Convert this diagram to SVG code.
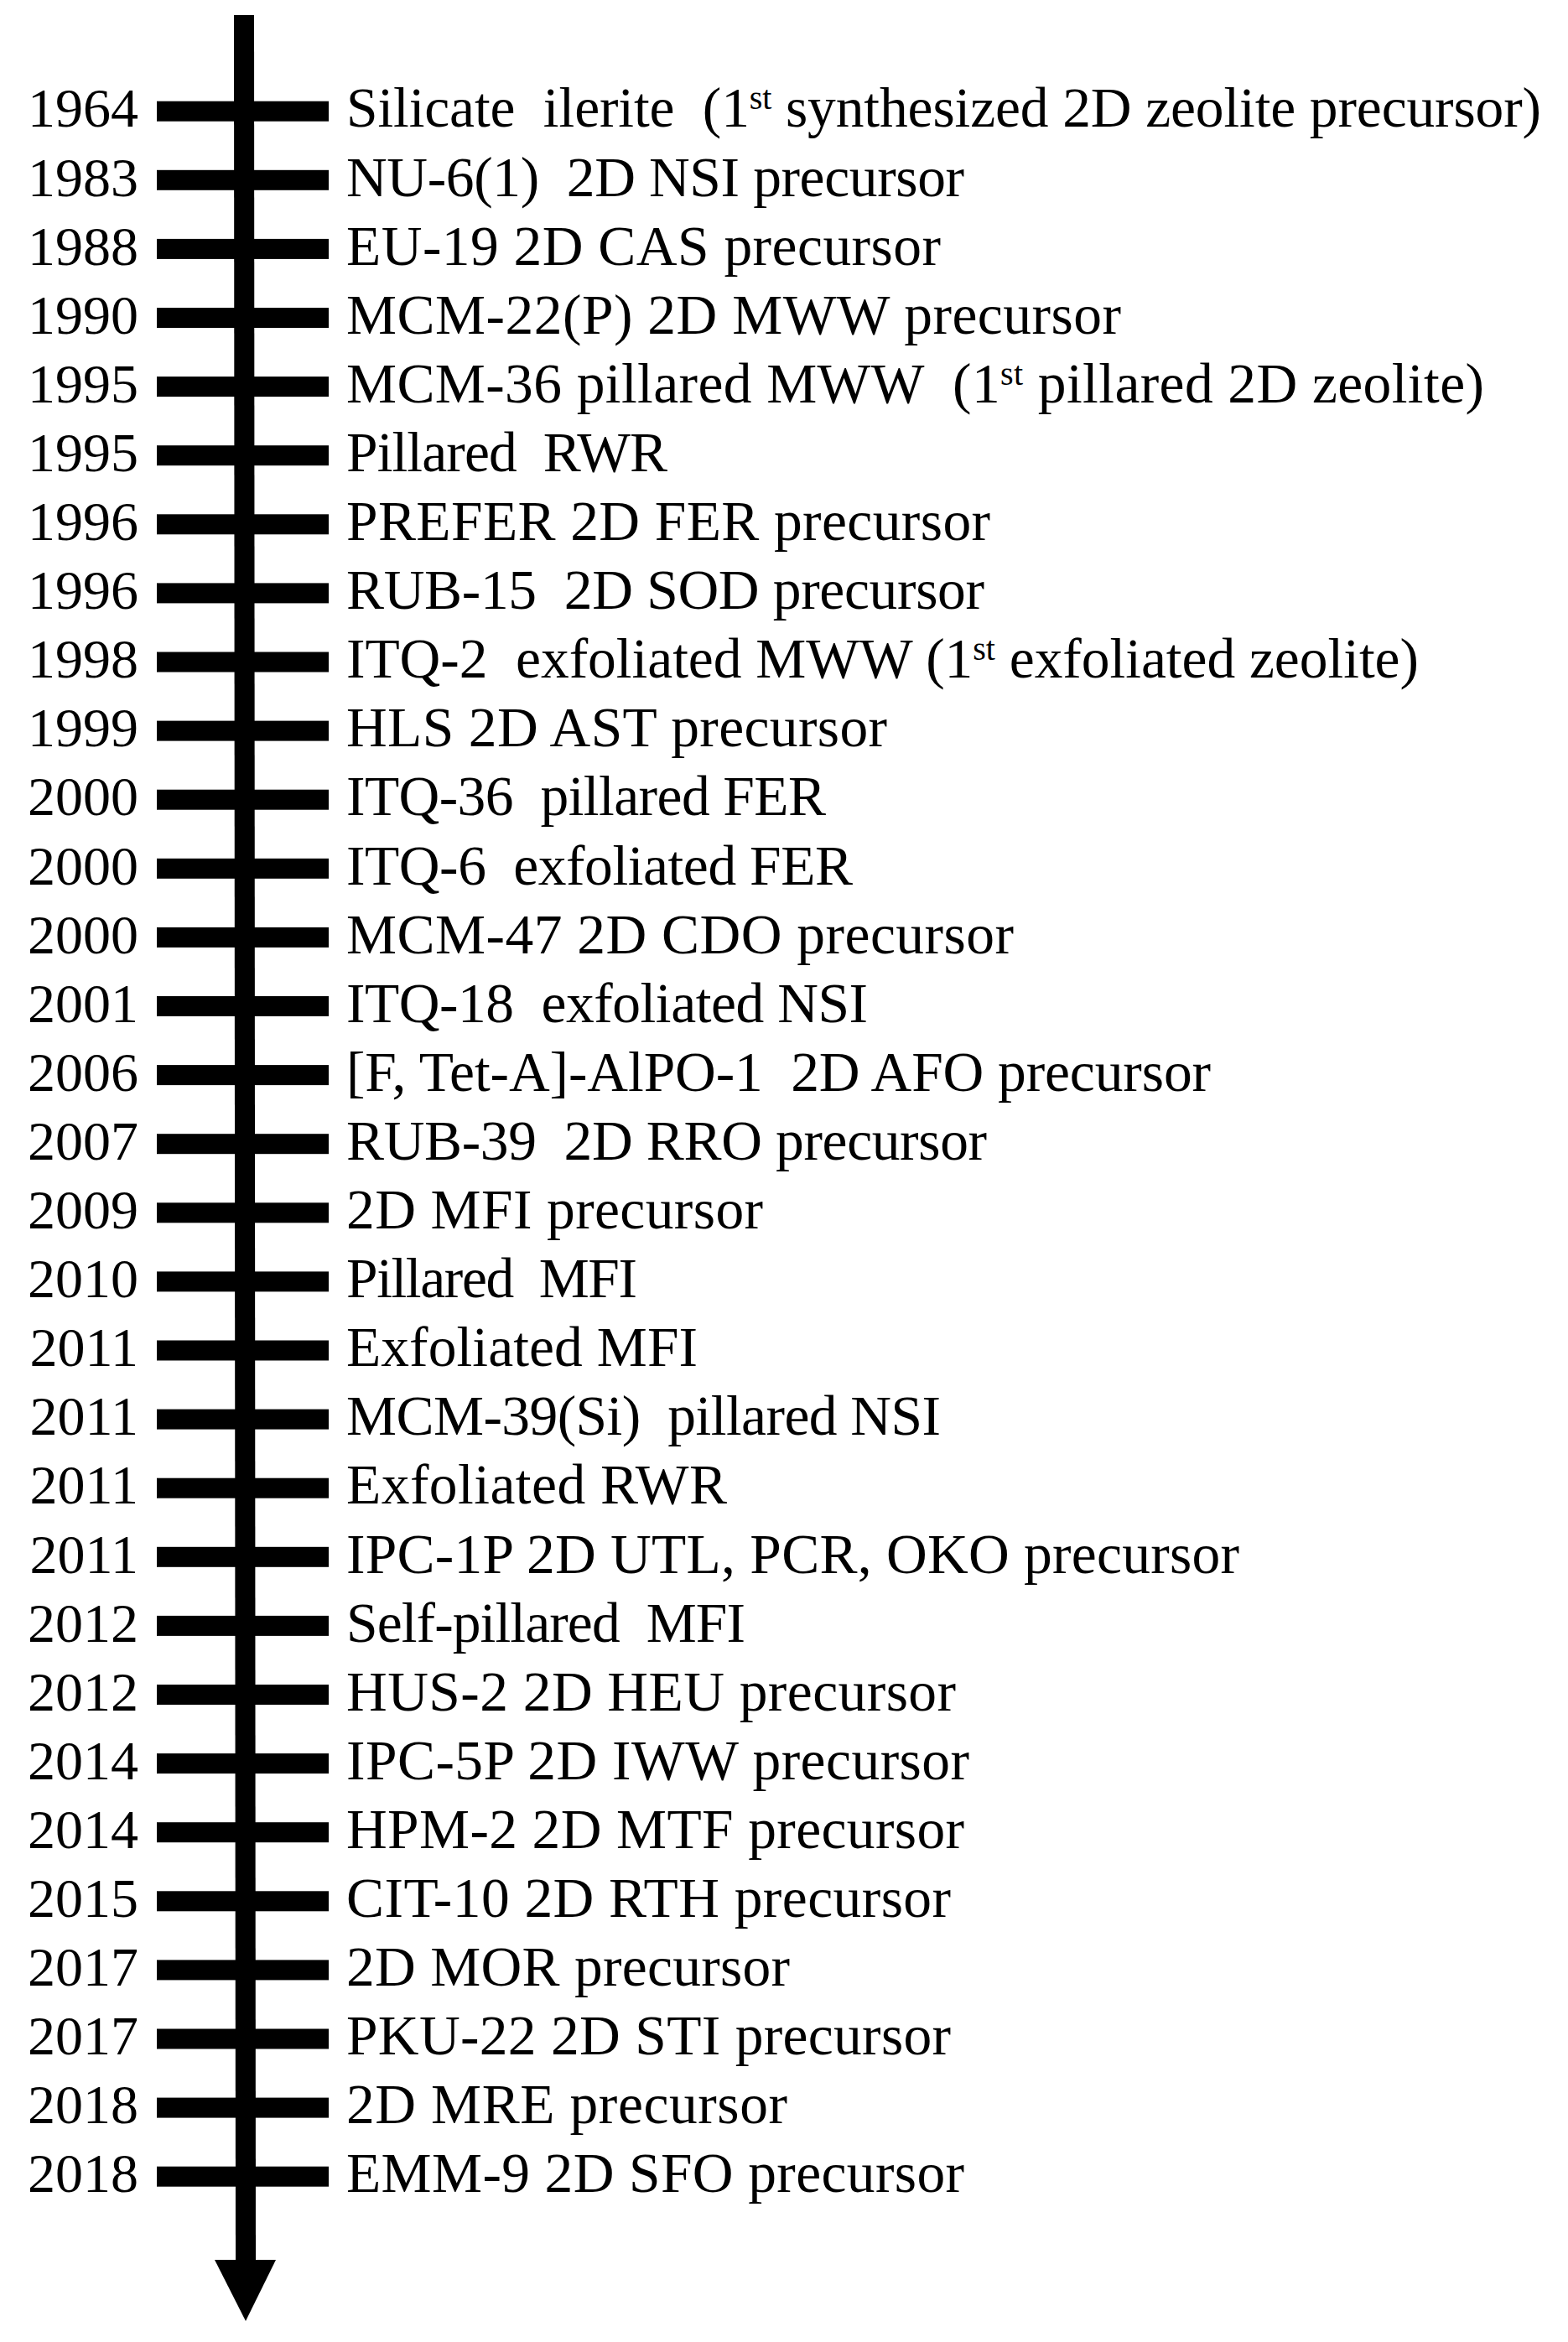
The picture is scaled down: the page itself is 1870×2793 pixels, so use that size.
<svg xmlns="http://www.w3.org/2000/svg" width="1870" height="2793" viewBox="0 0 1870 2793">
<style>
text{font-family:"Liberation Serif","Times New Roman",serif;font-size:66px;fill:#000;white-space:pre}
.lb{font-size:67.5px}
.yr{text-anchor:end}
.tick{fill:#000}
.sup{font-size:40px}
</style>
<rect width="1870" height="2793" fill="#fff"/>
<g id="connectors">
<polygon points="279,18 303,18 305,2696 281,2696" fill="#000"/>
<polygon points="256,2695 329,2695 293,2768" fill="#000"/>
</g>
<g id="n1"><rect class="tick" x="187" y="120.7" width="205" height="24"/><text class="yr" x="165" y="151.4">1964</text><text class="lb" x="413" y="151.4" textLength="1425" lengthAdjust="spacing">Silicate  ilerite  (1<tspan class="sup" dy="-21">st</tspan><tspan dy="21"> synthesized 2D zeolite precursor)</tspan></text></g>
<g id="n2"><rect class="tick" x="187" y="202.8" width="205" height="24"/><text class="yr" x="165" y="233.5">1983</text><text class="lb" x="413" y="233.5" textLength="737" lengthAdjust="spacing">NU-6(1)  2D NSI precursor</text></g>
<g id="n3"><rect class="tick" x="187" y="284.9" width="205" height="24"/><text class="yr" x="165" y="315.6">1988</text><text class="lb" x="413" y="315.6" textLength="709" lengthAdjust="spacing">EU-19 2D CAS precursor</text></g>
<g id="n4"><rect class="tick" x="187" y="367.0" width="205" height="24"/><text class="yr" x="165" y="397.7">1990</text><text class="lb" x="413" y="397.7" textLength="924" lengthAdjust="spacing">MCM-22(P) 2D MWW precursor</text></g>
<g id="n5"><rect class="tick" x="187" y="449.1" width="205" height="24"/><text class="yr" x="165" y="479.8">1995</text><text class="lb" x="413" y="479.8" textLength="1357" lengthAdjust="spacing">MCM-36 pillared MWW  (1<tspan class="sup" dy="-21">st</tspan><tspan dy="21"> pillared 2D zeolite)</tspan></text></g>
<g id="n6"><rect class="tick" x="187" y="531.2" width="205" height="24"/><text class="yr" x="165" y="561.9">1995</text><text class="lb" x="413" y="561.9" textLength="383" lengthAdjust="spacing">Pillared  RWR</text></g>
<g id="n7"><rect class="tick" x="187" y="613.3" width="205" height="24"/><text class="yr" x="165" y="644.0">1996</text><text class="lb" x="413" y="644.0" textLength="768" lengthAdjust="spacing">PREFER 2D FER precursor</text></g>
<g id="n8"><rect class="tick" x="187" y="695.4" width="205" height="24"/><text class="yr" x="165" y="726.1">1996</text><text class="lb" x="413" y="726.1" textLength="761" lengthAdjust="spacing">RUB-15  2D SOD precursor</text></g>
<g id="n9"><rect class="tick" x="187" y="777.5" width="205" height="24"/><text class="yr" x="165" y="808.2">1998</text><text class="lb" x="413" y="808.2" textLength="1279" lengthAdjust="spacing">ITQ-2  exfoliated MWW (1<tspan class="sup" dy="-21">st</tspan><tspan dy="21"> exfoliated zeolite)</tspan></text></g>
<g id="n10"><rect class="tick" x="187" y="859.6" width="205" height="24"/><text class="yr" x="165" y="890.3">1999</text><text class="lb" x="413" y="890.3" textLength="645" lengthAdjust="spacing">HLS 2D AST precursor</text></g>
<g id="n11"><rect class="tick" x="187" y="941.7" width="205" height="24"/><text class="yr" x="165" y="972.4">2000</text><text class="lb" x="413" y="972.4" textLength="572" lengthAdjust="spacing">ITQ-36  pillared FER</text></g>
<g id="n12"><rect class="tick" x="187" y="1023.8" width="205" height="24"/><text class="yr" x="165" y="1054.5">2000</text><text class="lb" x="413" y="1054.5" textLength="604" lengthAdjust="spacing">ITQ-6  exfoliated FER</text></g>
<g id="n13"><rect class="tick" x="187" y="1105.9" width="205" height="24"/><text class="yr" x="165" y="1136.6">2000</text><text class="lb" x="413" y="1136.6" textLength="796" lengthAdjust="spacing">MCM-47 2D CDO precursor</text></g>
<g id="n14"><rect class="tick" x="187" y="1188.0" width="205" height="24"/><text class="yr" x="165" y="1218.7">2001</text><text class="lb" x="413" y="1218.7" textLength="622" lengthAdjust="spacing">ITQ-18  exfoliated NSI</text></g>
<g id="n15"><rect class="tick" x="187" y="1270.1" width="205" height="24"/><text class="yr" x="165" y="1300.8">2006</text><text class="lb" x="413" y="1300.8" textLength="1031" lengthAdjust="spacing">[F, Tet-A]-AlPO-1  2D AFO precursor</text></g>
<g id="n16"><rect class="tick" x="187" y="1352.2" width="205" height="24"/><text class="yr" x="165" y="1382.9">2007</text><text class="lb" x="413" y="1382.9" textLength="764" lengthAdjust="spacing">RUB-39  2D RRO precursor</text></g>
<g id="n17"><rect class="tick" x="187" y="1434.3" width="205" height="24"/><text class="yr" x="165" y="1465.0">2009</text><text class="lb" x="413" y="1465.0" textLength="497" lengthAdjust="spacing">2D MFI precursor</text></g>
<g id="n18"><rect class="tick" x="187" y="1516.4" width="205" height="24"/><text class="yr" x="165" y="1547.1">2010</text><text class="lb" x="413" y="1547.1" textLength="347" lengthAdjust="spacing">Pillared  MFI</text></g>
<g id="n19"><rect class="tick" x="187" y="1598.5" width="205" height="24"/><text class="yr" x="165" y="1629.2">2011</text><text class="lb" x="413" y="1629.2" textLength="419" lengthAdjust="spacing">Exfoliated MFI</text></g>
<g id="n20"><rect class="tick" x="187" y="1680.6" width="205" height="24"/><text class="yr" x="165" y="1711.3">2011</text><text class="lb" x="413" y="1711.3" textLength="709" lengthAdjust="spacing">MCM-39(Si)  pillared NSI</text></g>
<g id="n21"><rect class="tick" x="187" y="1762.7" width="205" height="24"/><text class="yr" x="165" y="1793.4">2011</text><text class="lb" x="413" y="1793.4" textLength="454" lengthAdjust="spacing">Exfoliated RWR</text></g>
<g id="n22"><rect class="tick" x="187" y="1844.8" width="205" height="24"/><text class="yr" x="165" y="1875.5">2011</text><text class="lb" x="413" y="1875.5" textLength="1065" lengthAdjust="spacing">IPC-1P 2D UTL, PCR, OKO precursor</text></g>
<g id="n23"><rect class="tick" x="187" y="1926.9" width="205" height="24"/><text class="yr" x="165" y="1957.6">2012</text><text class="lb" x="413" y="1957.6" textLength="476" lengthAdjust="spacing">Self-pillared  MFI</text></g>
<g id="n24"><rect class="tick" x="187" y="2009.0" width="205" height="24"/><text class="yr" x="165" y="2039.7">2012</text><text class="lb" x="413" y="2039.7" textLength="727" lengthAdjust="spacing">HUS-2 2D HEU precursor</text></g>
<g id="n25"><rect class="tick" x="187" y="2091.1" width="205" height="24"/><text class="yr" x="165" y="2121.8">2014</text><text class="lb" x="413" y="2121.8" textLength="743" lengthAdjust="spacing">IPC-5P 2D IWW precursor</text></g>
<g id="n26"><rect class="tick" x="187" y="2173.2" width="205" height="24"/><text class="yr" x="165" y="2203.9">2014</text><text class="lb" x="413" y="2203.9" textLength="737" lengthAdjust="spacing">HPM-2 2D MTF precursor</text></g>
<g id="n27"><rect class="tick" x="187" y="2255.3" width="205" height="24"/><text class="yr" x="165" y="2286.0">2015</text><text class="lb" x="413" y="2286.0" textLength="721" lengthAdjust="spacing">CIT-10 2D RTH precursor</text></g>
<g id="n28"><rect class="tick" x="187" y="2337.4" width="205" height="24"/><text class="yr" x="165" y="2368.1">2017</text><text class="lb" x="413" y="2368.1" textLength="529" lengthAdjust="spacing">2D MOR precursor</text></g>
<g id="n29"><rect class="tick" x="187" y="2419.5" width="205" height="24"/><text class="yr" x="165" y="2450.2">2017</text><text class="lb" x="413" y="2450.2" textLength="721" lengthAdjust="spacing">PKU-22 2D STI precursor</text></g>
<g id="n30"><rect class="tick" x="187" y="2501.6" width="205" height="24"/><text class="yr" x="165" y="2532.3">2018</text><text class="lb" x="413" y="2532.3" textLength="526" lengthAdjust="spacing">2D MRE precursor</text></g>
<g id="n31"><rect class="tick" x="187" y="2583.7" width="205" height="24"/><text class="yr" x="165" y="2614.4">2018</text><text class="lb" x="413" y="2614.4" textLength="737" lengthAdjust="spacing">EMM-9 2D SFO precursor</text></g>
</svg>
